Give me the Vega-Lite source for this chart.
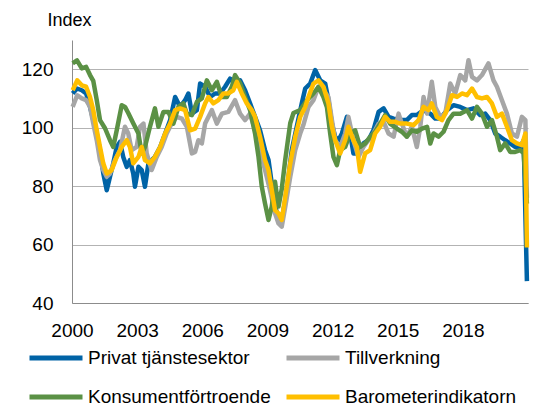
{
  "$schema": "https://vega.github.io/schema/vega-lite/v6.json",
  "width": 456,
  "height": 263,
  "autosize": {"type": "none"},
  "padding": {"left": 72, "top": 40, "right": 12, "bottom": 106},
  "background": "white",
  "config": {
    "font": "Liberation Sans",
    "view": {"stroke": null}
  },
  "datasets": {
    "P": [
      {"t":2000.03,"v":111.7},{"t":2000.23,"v":113.4},{"t":2000.45,"v":112.8},{"t":2000.65,"v":111.7},{"t":2000.83,"v":107.1},{"t":2000.98,"v":102.6},{"t":2001.14,"v":98},{"t":2001.29,"v":92.3},{"t":2001.44,"v":84.4},{"t":2001.6,"v":78.6},{"t":2001.75,"v":83.2},{"t":2001.9,"v":87.8},{"t":2002.06,"v":93.4},{"t":2002.21,"v":95.1},{"t":2002.36,"v":90},{"t":2002.52,"v":86.6},{"t":2002.67,"v":88.9},{"t":2002.82,"v":84.3},{"t":2002.9,"v":79.8},{"t":2003.06,"v":86.6},{"t":2003.21,"v":85.5},{"t":2003.36,"v":79.8},{"t":2003.52,"v":87.8},{"t":2003.67,"v":88.9},{"t":2003.82,"v":90},{"t":2004.06,"v":93.4},{"t":2004.29,"v":98},{"t":2004.52,"v":102.6},{"t":2004.75,"v":110.5},{"t":2004.98,"v":107.1},{"t":2005.21,"v":109.4},{"t":2005.36,"v":111.7},{"t":2005.52,"v":104.8},{"t":2005.75,"v":106},{"t":2005.9,"v":115.1},{"t":2006.13,"v":114},{"t":2006.36,"v":110.5},{"t":2006.59,"v":111.7},{"t":2006.82,"v":111.7},{"t":2007.05,"v":114},{"t":2007.28,"v":116.8},{"t":2007.51,"v":115.1},{"t":2007.74,"v":116.2},{"t":2007.97,"v":112.8},{"t":2008.2,"v":108.3},{"t":2008.43,"v":103.7},{"t":2008.66,"v":99.1},{"t":2008.89,"v":92.3},{"t":2009.05,"v":88.9},{"t":2009.2,"v":80.9},{"t":2009.35,"v":72.9},{"t":2009.51,"v":69.5},{"t":2009.66,"v":68.4},{"t":2009.82,"v":75.2},{"t":2009.97,"v":83.2},{"t":2010.12,"v":92.3},{"t":2010.35,"v":100.3},{"t":2010.58,"v":108.3},{"t":2010.74,"v":113.4},{"t":2010.97,"v":115.1},{"t":2011.2,"v":119.7},{"t":2011.43,"v":116.2},{"t":2011.66,"v":115.1},{"t":2011.81,"v":109.4},{"t":2011.97,"v":101.4},{"t":2012.12,"v":96.9},{"t":2012.27,"v":95.7},{"t":2012.43,"v":98},{"t":2012.66,"v":103.7},{"t":2012.81,"v":98},{"t":2012.96,"v":91.2},{"t":2013.19,"v":91.2},{"t":2013.42,"v":94.6},{"t":2013.65,"v":95.7},{"t":2013.88,"v":99.1},{"t":2014.12,"v":105.4},{"t":2014.35,"v":106.6},{"t":2014.58,"v":103.7},{"t":2014.81,"v":103.1},{"t":2015.12,"v":102.6},{"t":2015.42,"v":102.6},{"t":2015.65,"v":104.3},{"t":2015.88,"v":104.3},{"t":2016.19,"v":106},{"t":2016.5,"v":104.8},{"t":2016.73,"v":103.1},{"t":2016.96,"v":103.1},{"t":2017.27,"v":106},{"t":2017.57,"v":107.7},{"t":2017.88,"v":107.1},{"t":2018.19,"v":106},{"t":2018.49,"v":106.6},{"t":2018.8,"v":104.3},{"t":2019.03,"v":104.8},{"t":2019.26,"v":102.6},{"t":2019.49,"v":98},{"t":2019.72,"v":96.9},{"t":2019.95,"v":95.7},{"t":2020.18,"v":94.6},{"t":2020.41,"v":93.4},{"t":2020.65,"v":93.4},{"t":2020.8,"v":95.7},{"t":2020.95,"v":47.5}
    ],
    "T": [
      {"t":2000.03,"v":107.1},{"t":2000.24,"v":111.1},{"t":2000.45,"v":110},{"t":2000.65,"v":109.4},{"t":2000.83,"v":107.1},{"t":2000.98,"v":101.4},{"t":2001.14,"v":95.7},{"t":2001.29,"v":88.9},{"t":2001.44,"v":85.5},{"t":2001.6,"v":83.2},{"t":2001.75,"v":84.3},{"t":2001.98,"v":88.9},{"t":2002.21,"v":92.3},{"t":2002.44,"v":100.3},{"t":2002.59,"v":98},{"t":2002.75,"v":92.3},{"t":2002.98,"v":93.4},{"t":2003.13,"v":100.3},{"t":2003.29,"v":101.4},{"t":2003.44,"v":91.2},{"t":2003.67,"v":85.5},{"t":2003.9,"v":90},{"t":2004.13,"v":93.4},{"t":2004.36,"v":98},{"t":2004.59,"v":101.4},{"t":2004.82,"v":103.7},{"t":2005.06,"v":103.1},{"t":2005.29,"v":100.3},{"t":2005.52,"v":91.2},{"t":2005.67,"v":91.7},{"t":2005.82,"v":95.7},{"t":2005.98,"v":94.6},{"t":2006.13,"v":101.4},{"t":2006.44,"v":106},{"t":2006.67,"v":101.4},{"t":2006.9,"v":104.8},{"t":2007.2,"v":105.4},{"t":2007.51,"v":109.4},{"t":2007.74,"v":104.8},{"t":2007.97,"v":102.6},{"t":2008.2,"v":104.8},{"t":2008.43,"v":99.1},{"t":2008.66,"v":92.3},{"t":2008.89,"v":85.5},{"t":2009.12,"v":78.6},{"t":2009.35,"v":70.7},{"t":2009.51,"v":67.2},{"t":2009.66,"v":66.1},{"t":2009.82,"v":72.9},{"t":2010.05,"v":83.2},{"t":2010.28,"v":92.3},{"t":2010.51,"v":98},{"t":2010.66,"v":101},{"t":2010.89,"v":107.1},{"t":2011.12,"v":109.4},{"t":2011.35,"v":114},{"t":2011.58,"v":112.8},{"t":2011.81,"v":110.5},{"t":2011.97,"v":102.6},{"t":2012.12,"v":95.7},{"t":2012.35,"v":93.4},{"t":2012.58,"v":98},{"t":2012.73,"v":103.7},{"t":2012.96,"v":95.7},{"t":2013.19,"v":90},{"t":2013.42,"v":93.4},{"t":2013.65,"v":95.7},{"t":2013.88,"v":98},{"t":2014.12,"v":101.4},{"t":2014.35,"v":102},{"t":2014.58,"v":98},{"t":2014.81,"v":96.9},{"t":2015.04,"v":104.8},{"t":2015.19,"v":101.4},{"t":2015.42,"v":96.9},{"t":2015.65,"v":100.3},{"t":2015.88,"v":93.4},{"t":2016.04,"v":100.3},{"t":2016.19,"v":110.5},{"t":2016.35,"v":104.8},{"t":2016.57,"v":115.7},{"t":2016.73,"v":107.1},{"t":2016.96,"v":103.7},{"t":2017.19,"v":104.8},{"t":2017.42,"v":115.1},{"t":2017.65,"v":111.7},{"t":2017.88,"v":118},{"t":2018.11,"v":116.2},{"t":2018.26,"v":123.1},{"t":2018.42,"v":117.4},{"t":2018.65,"v":116.2},{"t":2018.88,"v":118},{"t":2019.18,"v":122},{"t":2019.41,"v":116.2},{"t":2019.57,"v":114},{"t":2019.8,"v":109.4},{"t":2020.03,"v":104.8},{"t":2020.26,"v":98},{"t":2020.49,"v":96.9},{"t":2020.72,"v":103.7},{"t":2020.88,"v":102.6},{"t":2020.95,"v":76}
    ],
    "K": [
      {"t":2000.03,"v":122},{"t":2000.23,"v":123},{"t":2000.45,"v":120.3},{"t":2000.65,"v":120.8},{"t":2000.83,"v":118},{"t":2000.98,"v":116},{"t":2001.14,"v":109.4},{"t":2001.29,"v":102.6},{"t":2001.52,"v":99.8},{"t":2001.75,"v":95.7},{"t":2001.9,"v":93.4},{"t":2002.06,"v":99.1},{"t":2002.29,"v":107.7},{"t":2002.44,"v":107.1},{"t":2002.59,"v":105},{"t":2002.82,"v":101.5},{"t":2003.06,"v":98},{"t":2003.21,"v":91.2},{"t":2003.36,"v":93.4},{"t":2003.59,"v":100.3},{"t":2003.82,"v":106.6},{"t":2003.98,"v":100.3},{"t":2004.21,"v":105.4},{"t":2004.44,"v":105.4},{"t":2004.67,"v":101.4},{"t":2004.9,"v":107.1},{"t":2005.13,"v":108.3},{"t":2005.29,"v":104.8},{"t":2005.52,"v":104.3},{"t":2005.75,"v":108.8},{"t":2005.98,"v":110},{"t":2006.21,"v":116.2},{"t":2006.44,"v":112.8},{"t":2006.67,"v":115.7},{"t":2006.9,"v":110.5},{"t":2007.13,"v":110.5},{"t":2007.36,"v":114},{"t":2007.51,"v":118},{"t":2007.74,"v":115.2},{"t":2007.97,"v":110.5},{"t":2008.2,"v":106},{"t":2008.43,"v":98},{"t":2008.59,"v":90},{"t":2008.74,"v":79.8},{"t":2008.89,"v":74},{"t":2009.05,"v":68.4},{"t":2009.2,"v":73},{"t":2009.35,"v":81.5},{"t":2009.51,"v":73},{"t":2009.66,"v":79},{"t":2009.82,"v":89},{"t":2010.05,"v":101.5},{"t":2010.2,"v":105},{"t":2010.51,"v":106},{"t":2010.82,"v":109.4},{"t":2011.12,"v":111.7},{"t":2011.35,"v":114},{"t":2011.58,"v":110.5},{"t":2011.74,"v":107},{"t":2011.89,"v":98},{"t":2012.04,"v":90},{"t":2012.2,"v":87.2},{"t":2012.35,"v":92.3},{"t":2012.58,"v":93.4},{"t":2012.81,"v":98},{"t":2013.04,"v":99.1},{"t":2013.27,"v":93.4},{"t":2013.5,"v":94.6},{"t":2013.73,"v":96.9},{"t":2013.96,"v":98.6},{"t":2014.19,"v":101.4},{"t":2014.42,"v":104.3},{"t":2014.65,"v":101.4},{"t":2014.96,"v":99.7},{"t":2015.19,"v":98.6},{"t":2015.42,"v":96.9},{"t":2015.65,"v":99.1},{"t":2015.88,"v":98.6},{"t":2016.12,"v":99.7},{"t":2016.35,"v":100.3},{"t":2016.5,"v":94.6},{"t":2016.65,"v":98},{"t":2016.88,"v":96.9},{"t":2017.11,"v":98.6},{"t":2017.34,"v":102.6},{"t":2017.57,"v":104.8},{"t":2017.88,"v":104.8},{"t":2018.19,"v":106},{"t":2018.42,"v":103.1},{"t":2018.65,"v":107.1},{"t":2018.88,"v":104.8},{"t":2019.11,"v":100.3},{"t":2019.34,"v":102.6},{"t":2019.57,"v":96.9},{"t":2019.72,"v":92.3},{"t":2019.95,"v":94.6},{"t":2020.18,"v":91.7},{"t":2020.41,"v":91.7},{"t":2020.65,"v":92.3},{"t":2020.8,"v":91.2},{"t":2020.95,"v":74}
    ],
    "B": [
      {"t":2000.03,"v":112.8},{"t":2000.24,"v":116.2},{"t":2000.45,"v":114.5},{"t":2000.65,"v":114},{"t":2000.83,"v":110.5},{"t":2000.98,"v":106},{"t":2001.14,"v":99.1},{"t":2001.29,"v":93.4},{"t":2001.44,"v":87.8},{"t":2001.6,"v":84.3},{"t":2001.83,"v":85.5},{"t":2002.06,"v":90},{"t":2002.29,"v":93.4},{"t":2002.52,"v":95.7},{"t":2002.67,"v":93.4},{"t":2002.82,"v":87.8},{"t":2003.06,"v":90},{"t":2003.21,"v":93.4},{"t":2003.36,"v":88.9},{"t":2003.59,"v":87.8},{"t":2003.82,"v":90},{"t":2004.06,"v":93.4},{"t":2004.29,"v":98},{"t":2004.52,"v":101.4},{"t":2004.75,"v":106},{"t":2004.98,"v":106.6},{"t":2005.21,"v":106},{"t":2005.44,"v":99.1},{"t":2005.67,"v":99.7},{"t":2005.9,"v":103.7},{"t":2006.13,"v":108.3},{"t":2006.28,"v":110.5},{"t":2006.51,"v":108.3},{"t":2006.74,"v":109.4},{"t":2006.97,"v":111.7},{"t":2007.2,"v":111.7},{"t":2007.43,"v":112.8},{"t":2007.59,"v":115.7},{"t":2007.82,"v":111.7},{"t":2008.05,"v":108.3},{"t":2008.28,"v":106},{"t":2008.43,"v":103.7},{"t":2008.66,"v":96.9},{"t":2008.89,"v":88.9},{"t":2009.05,"v":85.5},{"t":2009.2,"v":78.6},{"t":2009.35,"v":71.8},{"t":2009.51,"v":70.7},{"t":2009.66,"v":68.4},{"t":2009.82,"v":76.3},{"t":2010.05,"v":87.8},{"t":2010.28,"v":96.9},{"t":2010.51,"v":103.7},{"t":2010.74,"v":107.1},{"t":2010.89,"v":110.5},{"t":2011.12,"v":115.1},{"t":2011.35,"v":116.2},{"t":2011.58,"v":114},{"t":2011.81,"v":108.3},{"t":2011.97,"v":100.3},{"t":2012.12,"v":95.7},{"t":2012.35,"v":91.2},{"t":2012.58,"v":95.7},{"t":2012.73,"v":100.3},{"t":2012.96,"v":95.7},{"t":2013.12,"v":93.4},{"t":2013.27,"v":84.9},{"t":2013.5,"v":91.2},{"t":2013.73,"v":92.3},{"t":2013.96,"v":98},{"t":2014.19,"v":100.3},{"t":2014.42,"v":103.7},{"t":2014.65,"v":102},{"t":2014.88,"v":102},{"t":2015.12,"v":101.4},{"t":2015.42,"v":101.4},{"t":2015.73,"v":100.9},{"t":2015.96,"v":102.6},{"t":2016.19,"v":107.1},{"t":2016.42,"v":106},{"t":2016.57,"v":108.3},{"t":2016.8,"v":103.7},{"t":2017.04,"v":102.6},{"t":2017.27,"v":106},{"t":2017.5,"v":111.1},{"t":2017.73,"v":110.5},{"t":2017.96,"v":111.7},{"t":2018.19,"v":111.1},{"t":2018.42,"v":113.4},{"t":2018.65,"v":110.5},{"t":2018.88,"v":110},{"t":2019.11,"v":110.5},{"t":2019.34,"v":108.3},{"t":2019.57,"v":103.7},{"t":2019.8,"v":104.8},{"t":2020.03,"v":100.3},{"t":2020.26,"v":95.7},{"t":2020.49,"v":94.6},{"t":2020.72,"v":94},{"t":2020.88,"v":98},{"t":2020.95,"v":59}
    ]
  },
  "encoding": {
    "x": {
      "field": "t", "type": "quantitative",
      "scale": {"domain": [2000, 2021], "nice": false, "zero": false},
      "axis": {
        "values": [2000, 2003, 2006, 2009, 2012, 2015, 2018],
        "format": "d", "title": null, "grid": false, "ticks": false,
        "domainColor": "#8c8c8c", "domainWidth": 1,
        "labelFontSize": 19, "labelColor": "#000000", "labelPadding": 18,
        "labelFlush": false, "labelOverlap": false
      }
    },
    "y": {
      "field": "v", "type": "quantitative",
      "scale": {"domain": [40, 130], "nice": false, "zero": false},
      "axis": {
        "values": [40, 60, 80, 100, 120],
        "title": "Index", "titleAngle": 0, "titleFontSize": 18, "titleFontWeight": "normal",
        "titleColor": "#000000", "titleAlign": "center", "titleBaseline": "alphabetic",
        "titleX": -3, "titleY": -15,
        "grid": true, "gridColor": "#b3b3b3", "gridWidth": 1, "ticks": false,
        "domainColor": "#8c8c8c", "domainWidth": 1,
        "labelFontSize": 19, "labelColor": "#000000", "labelPadding": 19
      }
    }
  },
  "layer": [
    {
      "data": {"name": "P"},
      "mark": {"type": "line", "strokeWidth": 4.5, "strokeJoin": "round"},
      "encoding": {
        "color": {
          "datum": "Privat tjänstesektor",
          "scale": {
            "domain": ["Privat tjänstesektor", "Tillverkning", "Konsumentförtroende", "Barometerindikatorn"],
            "range": ["#0063a6", "#a6a6a6", "#5b9145", "#ffbf00"]
          },
          "legend": {
            "orient": "none", "legendX": -45, "legendY": 289,
            "direction": "horizontal", "columns": 2, "title": null,
            "symbolType": "stroke", "symbolSize": 2809, "symbolStrokeWidth": 5,
            "labelFontSize": 19, "labelColor": "#000000", "labelOffset": 3, "labelLimit": 400,
            "columnPadding": 5, "rowPadding": -18
          }
        }
      }
    },
    {
      "data": {"name": "T"},
      "mark": {"type": "line", "strokeWidth": 4.5, "strokeJoin": "round"},
      "encoding": {"color": {"datum": "Tillverkning"}}
    },
    {
      "data": {"name": "K"},
      "mark": {"type": "line", "strokeWidth": 4.5, "strokeJoin": "round"},
      "encoding": {"color": {"datum": "Konsumentförtroende"}}
    },
    {
      "data": {"name": "B"},
      "mark": {"type": "line", "strokeWidth": 4.5, "strokeJoin": "round"},
      "encoding": {"color": {"datum": "Barometerindikatorn"}}
    }
  ]
}
